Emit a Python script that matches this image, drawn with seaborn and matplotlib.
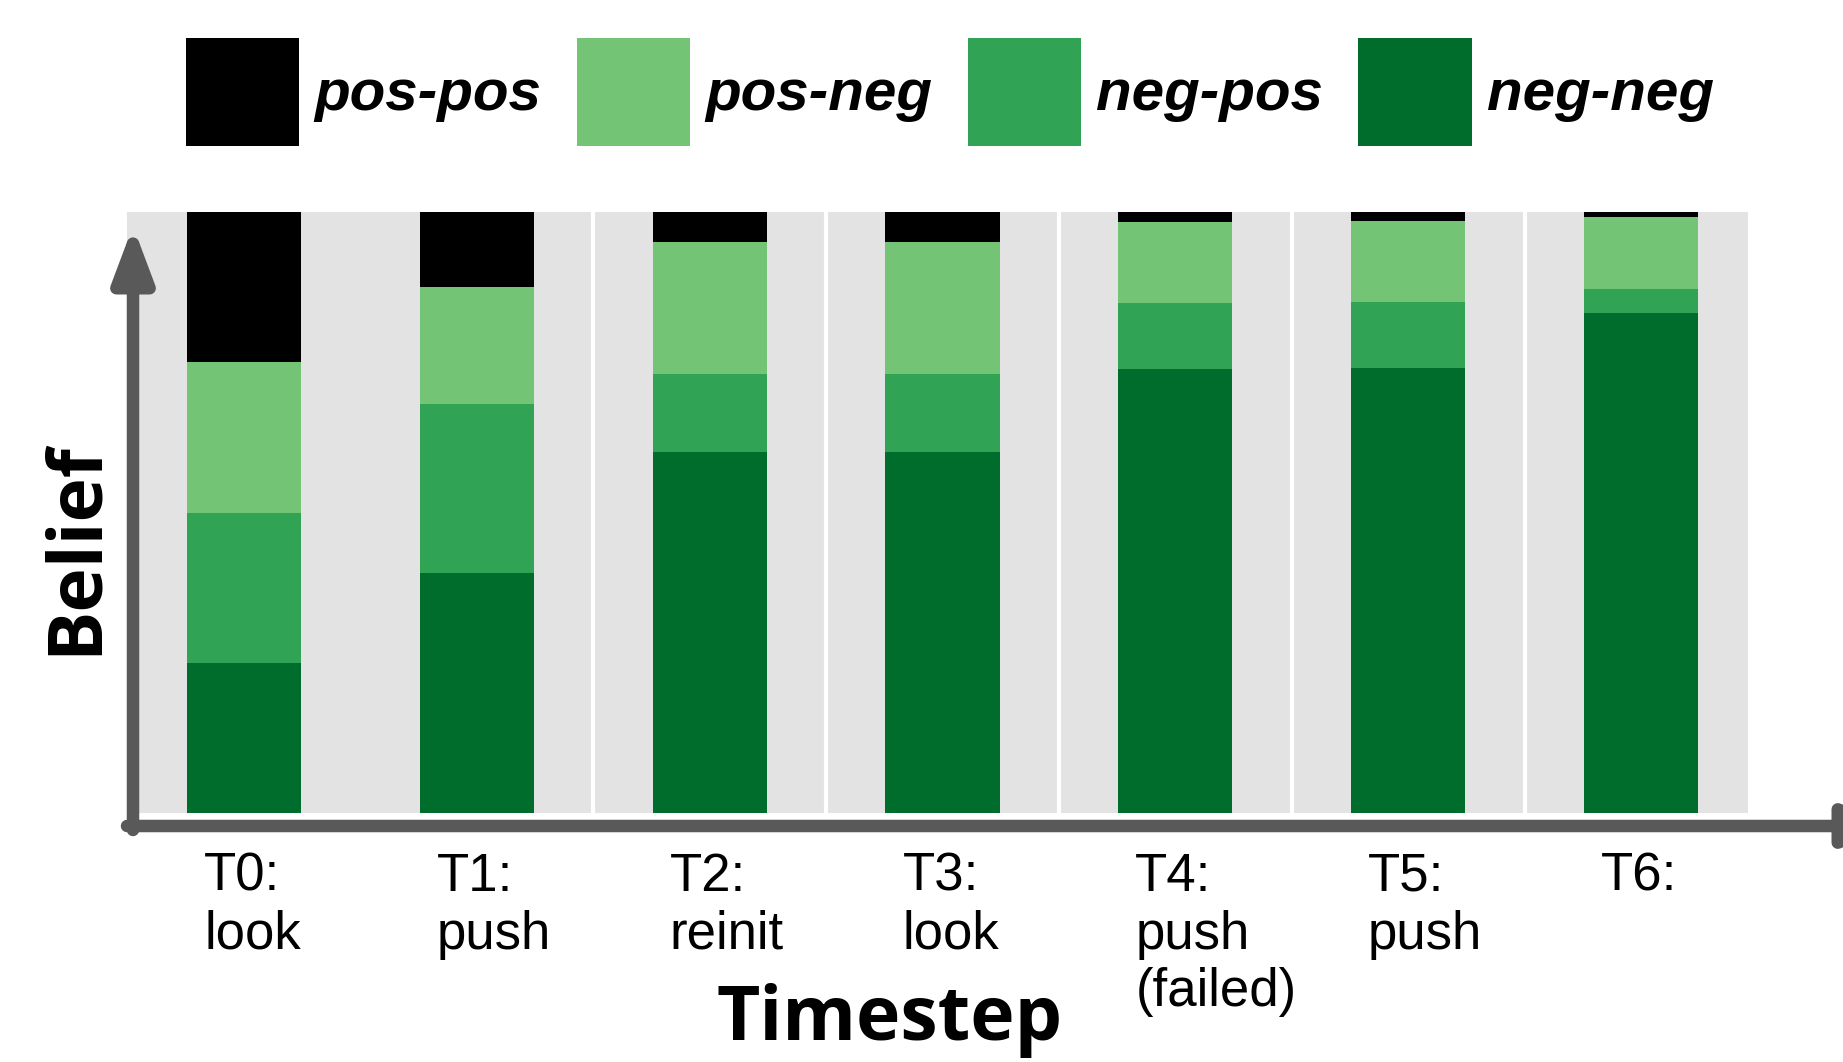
import matplotlib
matplotlib.use("Agg")
import matplotlib.pyplot as plt
import matplotlib.transforms as mtransforms
from matplotlib.patches import Patch
import pandas as pd
import seaborn as sns

# belief mass per timestep
steps = ["T0:\nlook", "T1:\npush", "T2:\nreinit", "T3:\nlook",
         "T4:\npush\n(failed)", "T5:\npush", "T6:"]
pos_pos = [0.25, 0.125, 0.05, 0.05, 0.016, 0.015, 0.008]
pos_neg = [0.25, 0.195, 0.22, 0.22, 0.135, 0.135, 0.12]
neg_pos = [0.25, 0.28, 0.13, 0.13, 0.11, 0.11, 0.04]
neg_neg = [0.25, 0.40, 0.60, 0.60, 0.739, 0.74, 0.832]

layers = ["pos-pos", "pos-neg", "neg-pos", "neg-neg"]
colors = {"pos-pos": "#000000", "pos-neg": "#74c476",
          "neg-pos": "#31a354", "neg-neg": "#006d2c"}

df = pd.DataFrame({"step": steps, "pos-pos": pos_pos, "pos-neg": pos_neg,
                   "neg-pos": neg_pos, "neg-neg": neg_neg})
# cumulative heights from the bottom layer up
cum = df[layers[::-1]].cumsum(axis=1)

sns.set_style("white")
plt.rcParams["font.family"] = ["Liberation Sans", "DejaVu Sans"]
plt.rcParams["text.color"] = "black"
plt.rcParams["xtick.color"] = "black"
plt.rcParams["xtick.labelcolor"] = "black"

W, H = 1843, 1062
fig = plt.figure(figsize=(W / 100, H / 100), dpi=100)
ax = fig.add_axes([127 / W, 1 - 813 / H, 1621 / W, 601 / H])
ax.set_facecolor("#e3e3e3")

# draw tallest first so each shorter layer sits on top
for name in layers:
    sns.barplot(x=df["step"], y=cum[name], color=colors[name], width=0.49,
                saturation=1, linewidth=0, ax=ax)

for i in range(1, len(steps) - 1):
    ax.axvline(i + 0.5, color="white", lw=3, zorder=0.5)

ax.set_xlim(-0.503, 6.46)
ax.set_ylim(0, 1)
ax.set_xlabel("")
ax.set_ylabel("")
ax.set_yticks([])
ax.set_xticks(range(len(steps)))
ax.set_xticklabels(steps, fontsize=38, linespacing=1.2, color="black")
ax.tick_params(axis="x", length=0, pad=28)
for s in ax.spines.values():
    s.set_visible(False)

offset = mtransforms.ScaledTranslation(-0.40, 0, fig.dpi_scale_trans)
for lab in ax.get_xticklabels():
    lab.set_ha("left")
    lab.set_transform(lab.get_transform() + offset)

# axis arrows
arrow = dict(arrowstyle="-|>,head_length=3.2,head_width=1.2", color="#595959",
             lw=9, mutation_scale=10, shrinkA=0, shrinkB=0)
ax.annotate("", xy=(133 / W, 1 - 226 / H), xytext=(133 / W, 1 - 830 / H),
            xycoords="figure fraction", arrowprops=arrow, annotation_clip=False)
ax.annotate("", xy=(1900 / W, 1 - 826 / H), xytext=(127 / W, 1 - 826 / H),
            xycoords="figure fraction", arrowprops=arrow, annotation_clip=False)

fig.text(890 / W, 22 / H, "Timestep", ha="center", va="baseline",
         fontsize=54, fontweight="bold", family=["Open Sans", "DejaVu Sans"])
fig.text(76 / W, 1 - 548 / H, "Belief", ha="center", va="center", rotation=90,
         fontsize=54, fontweight="bold", family=["Open Sans", "DejaVu Sans"])

handles = [Patch(facecolor=colors[n], edgecolor="none") for n in layers]
leg = fig.legend(handles, layers, loc="center", bbox_to_anchor=(950 / W, 1 - 92 / H),
                 ncol=4, frameon=False, handlelength=1.95, handleheight=2.45,
                 handletextpad=0.26, columnspacing=0.6,
                 prop=dict(family="Liberation Sans", weight="bold",
                           style="italic", size=42))

fig.savefig("out.png", dpi=100)
